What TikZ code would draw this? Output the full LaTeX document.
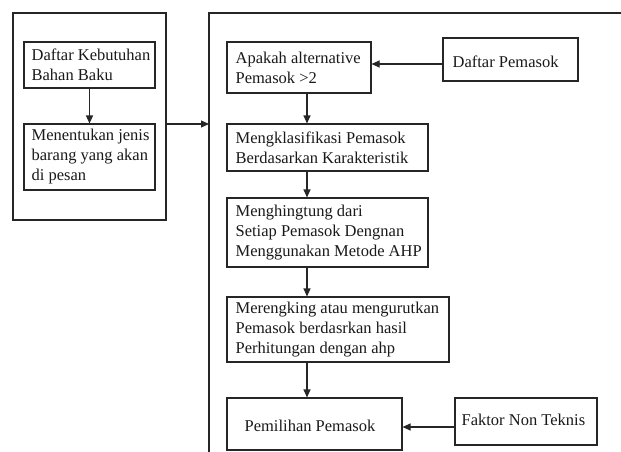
\documentclass[tikz,border=0pt]{standalone}
\usepackage{fontspec}
\setmainfont{Liberation Serif}
\usetikzlibrary{arrows.meta}
\begin{document}
\begin{tikzpicture}[x=1pt,y=-1pt,
  box/.style={draw=black!85,line width=1.1pt,rectangle,inner sep=0pt},
  lbl/.style={anchor=west,align=left,inner sep=0pt,text=black!90,
    font=\fontsize{16.5}{20}\selectfont},
  arr/.style={draw=black!85,line width=1.1pt,-{Triangle[length=8pt,width=7pt]}}]
\useasboundingbox (0,0) rectangle (621,452);
% left frame
\node[box,minimum width=153pt,minimum height=207pt] (lf) at (89.5,116.5) {};
\node[box,minimum width=131pt,minimum height=46pt] (b1) at (89.5,65) {};
\node[lbl] (t1) at ([xshift=8pt]b1.west) {Daftar Kebutuhan\\Bahan Baku};
\node[box,minimum width=131pt,minimum height=66pt] (b2) at (89.5,157) {};
\node[lbl] (t2) at ([xshift=8pt]b2.west) {Menentukan jenis\\barang yang akan\\di pesan};
\draw[arr] (b1.south) -- (b2.north);
% right frame
\coordinate (rfTop) at (209,13);
\coordinate (rfTR) at (621,13);
\coordinate (rfBot) at (209,452);
\draw[draw=black!85,line width=1.1pt] (rfTR) -- (rfTop) -- (rfBot);
\coordinate (rfIn) at (209,124);
\draw[arr] (lf.east |- rfIn) -- (rfIn);
% right boxes
\node[box,minimum width=144pt,minimum height=51pt] (a) at (299,67.5) {};
\node[lbl] (ta) at ([xshift=9pt]a.west) {Apakah alternative\\Pemasok >2};
\node[box,minimum width=135pt,minimum height=43pt] (dp) at (510.5,59.5) {};
\node[lbl] (tdp) at ([xshift=10pt,yshift=-2pt]dp.west) {Daftar Pemasok};
\node[box,minimum width=201pt,minimum height=47pt] (k) at (327.5,147.5) {};
\node[lbl] (tk) at ([xshift=9pt]k.west) {Mengklasifikasi Pemasok\\Berdasarkan Karakteristik};
\node[box,minimum width=201pt,minimum height=69pt] (h) at (327.5,232.5) {};
\node[lbl] (th) at ([xshift=9pt]h.west) {Menghingtung dari\\Setiap Pemasok Dengnan\\Menggunakan Metode AHP};
\node[box,minimum width=222pt,minimum height=65pt] (r) at (338,329.5) {};
\node[lbl] (tr) at ([xshift=9pt]r.west) {Merengking atau mengurutkan\\Pemasok berdasrkan hasil\\Perhitungan dengan ahp};
\node[box,minimum width=175pt,minimum height=52pt] (p) at (314.5,424) {};
\node[lbl] (tp) at ([xshift=18pt,yshift=-2pt]p.west) {Pemilihan Pemasok};
\node[box,minimum width=142pt,minimum height=47pt] (f) at (526,421.5) {};
\node[lbl] (tf) at ([xshift=7pt,yshift=2pt]f.west) {Faktor Non Teknis};
% connectors
\draw[arr] (dp.west |- 0,64) -- (a.east |- 0,64);
\draw[arr] (a.south -| 307,0) -- (k.north -| 307,0);
\draw[arr] (k.south -| 307,0) -- (h.north -| 307,0);
\draw[arr] (h.south -| 307,0) -- (r.north -| 307,0);
\draw[arr] (r.south -| 307,0) -- (p.north -| 307,0);
\draw[arr] (f.west |- 0,427) -- (p.east |- 0,427);
\end{tikzpicture}
\end{document}
